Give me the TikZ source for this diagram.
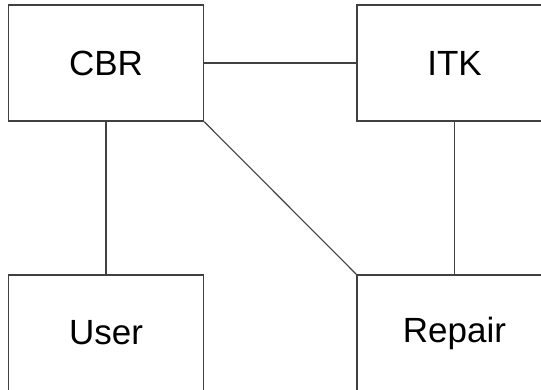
\documentclass[tikz,border=0pt]{standalone}
\usepackage{fontspec}
\setmainfont{Liberation Sans}
\begin{document}
\begin{tikzpicture}[x=1pt,y=-1pt,
  box/.style={draw=black!75,line width=1.3pt,fill=white,minimum width=195pt,minimum height=116pt,inner sep=0pt,font=\fontsize{35}{40}\selectfont},
  link/.style={draw=black!75,line width=1.1pt}]
  \useasboundingbox (0,0) rectangle (541,390);
  \clip (0,0) rectangle (541,390);
  \node[box] (cbr) at (106,63) {CBR};
  \node[box] (itk) at (454.5,63) {ITK};
  \node[box] (user) at (106,333) {User};
  \node[box] (repair) at (454.5,333) {Repair};
  \draw[link] (cbr.east) -- (itk.west);
  \draw[link] (cbr.south) -- (user.north);
  \draw[link] (itk.south) -- (repair.north);
  \draw[link] (cbr.south east) -- (repair.north west);
\end{tikzpicture}
\end{document}
